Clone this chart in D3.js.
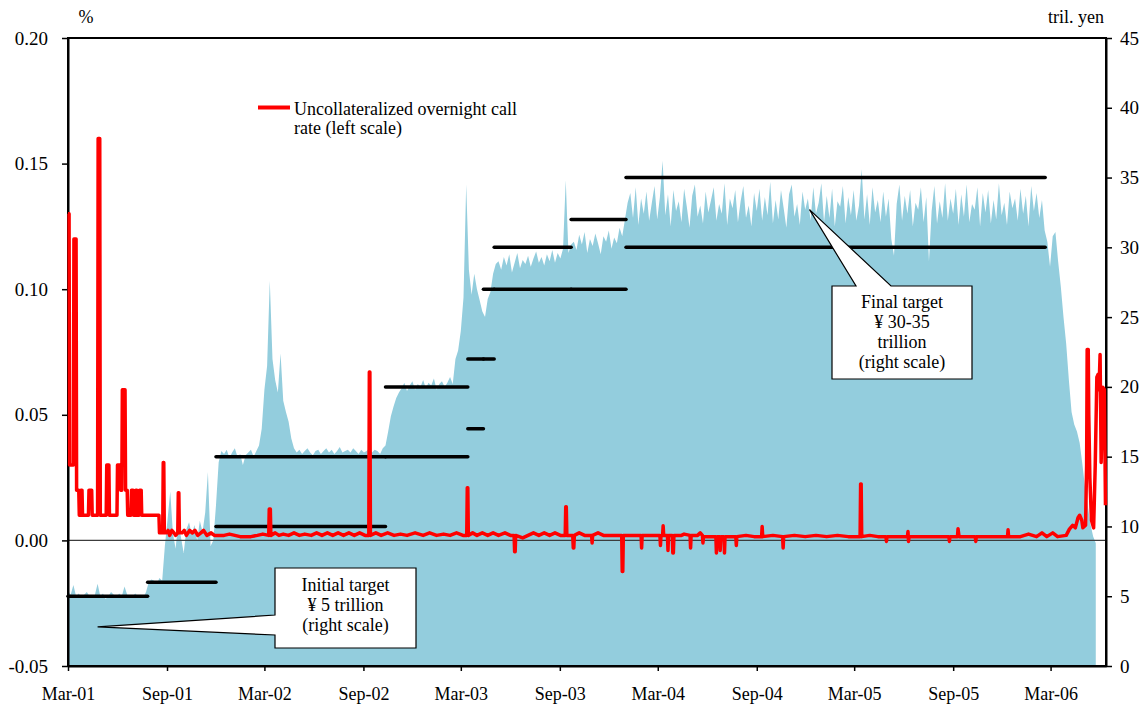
<!DOCTYPE html>
<html>
<head>
<meta charset="utf-8" />
<title>Current account balances and overnight call rate</title>
<style>
    body { margin: 0; background: #fff; }
    svg { display: block; font-family: "Liberation Serif", "Times New Roman", serif; }
</style>
</head>
<body>
<div id="chart"></div>
<script src="https://cdnjs.cloudflare.com/ajax/libs/d3/7.8.5/d3.min.js"></script>
<script>
// axis range and ticks
const startDate = "2001-03-19";
const endDate = "2006-06-30";
const tickDates = ["2001-03-19", "2001-09-19", "2002-03-19", "2002-09-19", "2003-03-19", "2003-09-19",
    "2004-03-19", "2004-09-19", "2005-03-19", "2005-09-19", "2006-03-19"];
const leftTicks = [-0.05, 0, 0.05, 0.10, 0.15, 0.20];
const rightTicks = [0, 5, 10, 15, 20, 25, 30, 35, 40, 45];

// current account balances, tril. yen, one reading every 5 days from startDate
const balanceStep = 5;
const balance = [
    // Mar 2001 - Aug 2001
    5.4, 5.1, 5.8, 5.0, 5.2, 4.9, 5.1, 5.3, 5.0, 4.9,
    5.1, 5.9, 5.0, 5.2, 4.8, 5.0, 5.3, 5.1, 4.9, 5.2,
    5.0, 5.7, 5.1, 4.9, 5.0, 5.2, 5.0, 5.1, 4.9, 5.3,
    6.0, 6.2, 6.1, 5.9, 6.3, 6.1,
    // after Sep 2001
    8.6, 10.5, 12.5, 9.5, 8.4, 10.4, 9.2, 8.1, 9.8, 10.3,
    9.4, 10.1, 9.0, 10.4, 9.6, 11.0, 13.9, 8.6, 9.0, 11.5,
    14.6, 15.4,
    // Dec 2001 - Feb 2002
    15.2, 15.5, 14.9, 15.3, 15.6, 15.0, 15.2, 14.4, 15.1, 15.3, 15.5, 15.0, 15.4, 15.8,
    // fiscal year end 2002
    17.0, 19.8, 21.5, 27.6, 22.0, 20.5, 19.6, 22.4, 19.0, 18.2, 17.5, 16.3, 15.6,
    // Apr 2002 - Oct 2002
    15.3, 15.5, 15.2, 15.4, 15.6, 15.3, 15.1, 15.4, 15.5, 15.2,
    15.4, 15.6, 15.3, 15.5, 15.2, 15.4, 15.7, 15.3, 15.4, 15.5,
    15.3, 15.6, 15.4, 15.2, 15.5, 15.3, 15.4, 15.6, 15.3, 15.5, 15.4, 15.2, 15.6,
    // Nov 2002 - Mar 2003
    15.8, 16.8, 17.9, 18.6, 19.2, 19.6,
    19.9, 20.3, 19.7, 20.1, 20.4, 19.8, 20.2, 20.0, 20.5, 19.9,
    20.3, 20.1, 20.6, 19.8, 20.2, 20.4, 20.0, 20.3, 20.7, 20.2,
    // Mar 2003 - May 2003
    22.0, 22.6, 24.0, 26.4, 34.5, 28.4, 26.6, 28.1, 27.0, 26.2, 25.4, 25.0, 26.3, 26.8, 28.1, 28.8,
    // May 2003 - Oct 2003
    29.0, 28.4, 29.3, 28.7, 29.5, 28.2, 28.9, 29.6, 28.5, 29.1,
    28.8, 29.4, 28.6, 29.2, 29.7, 28.9, 29.3, 28.7, 29.5, 29.0,
    29.8, 28.9, 29.6, 29.2, 29.9,
    34.8, 29.6, 30.2,
    // Oct 2003 - Jan 2004
    30.4, 29.8, 30.9, 30.2, 31.1, 29.6, 30.6, 30.1, 31.0, 30.3,
    29.5, 30.8, 30.4, 31.2, 29.9, 30.7, 30.3, 31.4, 30.8,
    32.0, 33.2,
    // Jan 2004 - Mar 2006
    33.9, 32.1, 34.3, 31.6, 33.5, 32.4, 34.0, 31.9, 33.2, 34.4,
    32.0, 33.6, 36.2, 32.3, 33.8, 31.5, 34.1, 32.6, 33.3, 31.8,
    34.2, 32.9, 31.4, 33.7, 34.5, 32.2, 33.0, 31.7, 34.0, 32.5,
    33.4, 34.3, 31.9, 33.1, 32.4, 34.6, 31.6, 33.5, 32.8, 34.1,
    31.8, 33.3, 34.4, 32.1, 33.0, 31.5, 33.9, 32.6, 34.2, 31.9,
    33.6, 32.3, 34.7, 31.7, 33.4, 32.0, 34.1, 32.8, 31.4, 33.8,
    34.5, 32.2, 33.1, 31.6, 34.0, 32.7, 33.5, 31.9, 34.3, 32.4,
    33.2, 34.6, 31.8, 33.7, 32.1, 34.2, 31.5, 33.3, 32.9, 34.4,
    31.7, 33.6, 32.3, 34.1, 31.9, 33.0, 35.6, 32.0, 33.8, 31.6,
    34.3, 32.5, 33.4, 31.8, 34.0, 32.2, 33.5, 30.6, 29.4, 33.1,
    34.5, 31.9, 33.7, 32.4, 34.1, 31.5, 33.2, 32.7, 34.3, 31.8,
    33.6, 29.0, 32.6, 34.4, 31.7, 33.3, 32.1, 34.6, 31.9, 33.5,
    32.4, 34.2, 31.6, 33.8, 32.2, 34.5, 31.8, 33.1, 32.7, 34.3,
    31.5, 33.9, 32.5, 34.1, 31.7, 33.4, 32.0, 34.6, 32.3, 33.2,
    31.6, 34.0, 32.8, 33.5, 31.9, 34.2, 32.4, 33.7, 31.5, 34.4,
    32.6, 33.9, 32.1, 33.4, 31.2,
    // exit, Mar 2006 - Jun 2006
    30.4, 28.6, 30.8, 31.1, 29.0, 27.2, 25.0, 23.1, 20.5, 18.2,
    17.3, 16.8, 16.0, 14.5, 12.8, 11.5, 10.2, 9.3, 8.8
];

// target ranges for current account balances (tril. yen)
const targetFrom = ["2001-03-19", "2001-08-14", "2001-12-19", "2002-10-30", "2003-04-01",
    "2003-04-30", "2003-05-20", "2003-10-10", "2004-01-20"];
const targetTo = ["2001-08-14", "2001-12-19", "2002-10-30", "2003-04-01", "2003-04-30",
    "2003-05-20", "2003-10-10", "2004-01-20", "2006-03-09"];
const targetLow = [5, 6, 10, 15, 17, 22, 27, 27, 30];
const targetHigh = [5, 6, 15, 20, 22, 27, 30, 32, 35];

// uncollateralized overnight call rate, %: [days after startDate, rate]
const callRate = [
    [0, .13], [2, .13], [3, .03], [10, .03], [11, .12], [15, .12], [16, .02], [20, .02], [21, .01], [23, .01],
    [24, .02], [26, .02], [27, .01], [38, .01], [39, .02], [44, .02], [45, .01], [55, .01], [56, .16], [59, .16],
    [60, .01], [71, .01], [72, .03], [76, .03], [77, .01], [91, .01], [92, .03], [97, .03], [98, .02], [100, .02],
    [101, .06], [106, .06], [107, .02], [110, .02], [111, .01], [117, .01], [118, .02], [121, .02], [122, .01],
    [125, .01], [126, .02], [128, .02], [129, .01], [132, .01], [133, .02], [136, .02], [137, .01], [169, .01],
    [170, .003], [176, .003], [177, .031], [178, .031], [179, .003], [183, .003], [186, .004], [189, .002],
    [193, .004], [197, .003], [200, .002], [204, .003], [205, .019], [206, .019], [207, .003], [212, .003],
    [216, .004], [220, .002], [226, .004], [231, .003], [236, .004], [241, .002], [247, .003], [252, .004],
    [258, .002], [266, .003], [272, .002], [280, .002], [290, .002], [300, .0025], [320, .0015], [340, .0015],
    [352, .002], [362, .0025], [373, .002], [374, .0125], [376, .0125], [377, .002], [385, .003], [392, .002],
    [400, .0025], [410, .002], [420, .003], [430, .002], [440, .0025], [452, .002], [462, .003], [472, .002],
    [482, .003], [492, .002], [502, .003], [512, .002], [522, .003], [532, .002], [542, .003], [552, .002],
    [559, .002], [560, .067], [561, .067], [562, .002], [572, .003], [582, .002], [594, .003], [606, .002],
    [618, .0025], [630, .002], [645, .003], [660, .002], [672, .003], [685, .002], [698, .0025], [710, .002],
    [722, .003], [734, .002], [741, .002], [742, .021], [743, .021], [744, .002], [752, .003], [760, .002],
    [770, .003], [780, .002], [790, .003], [800, .002], [812, .003], [822, .002], [829, .002], [830, -.0045],
    [831, -.0045], [832, .002], [845, .001], [855, .002], [865, .003], [875, .002], [885, .003], [895, .002],
    [905, .003], [915, .002], [924, .002], [925, .0134], [926, .0134], [927, .002], [938, .002], [939, -.003],
    [940, -.003], [941, .002], [950, .003], [960, .002], [973, .002], [974, -.001], [975, .002], [985, .003],
    [995, .002], [1005, .002], [1015, .002], [1029, .002], [1030, -.0124], [1031, -.0124], [1032, .002],
    [1045, .002], [1065, .002], [1066, -.003], [1067, .002], [1085, .002], [1100, .002], [1101, -.002],
    [1102, .002], [1105, .002], [1106, .0058], [1107, .002], [1114, .002], [1115, -.004], [1116, .002],
    [1123, .002], [1124, -.005], [1125, -.005], [1126, .002], [1140, .002], [1145, .0025], [1156, .002],
    [1157, -.003], [1158, .002], [1170, .002], [1175, .003], [1179, .002], [1180, -.001], [1181, .0015],
    [1204, .0015], [1205, -.005], [1206, .0015], [1211, .0015], [1212, -.004], [1213, .0015], [1219, .0015],
    [1220, -.005], [1221, .0015], [1241, .0015], [1242, -.002], [1243, .0015], [1260, .002], [1275, .0015],
    [1289, .0015], [1290, .0055], [1291, .0015], [1310, .002], [1328, .0015], [1329, -.003], [1330, .0015],
    [1350, .002], [1370, .0015], [1390, .002], [1410, .0015], [1430, .002], [1450, .0015], [1472, .0015],
    [1473, .0225], [1474, .0225], [1475, .0015], [1490, .002], [1505, .0015], [1520, .0015], [1521, -.0004],
    [1522, .0015], [1540, .0015], [1560, .0015], [1561, .0035], [1562, -.0004], [1563, .0015], [1600, .0015],
    [1637, .0015], [1638, -.0004], [1639, .0015], [1653, .0015], [1654, .0046], [1656, .0015], [1686, .0015],
    [1687, -.0004], [1688, .0015], [1720, .0015], [1746, .0015], [1747, .0042], [1748, .0015], [1770, .0015],
    [1785, .0025], [1800, .0015], [1810, .003], [1819, .0015], [1830, .003], [1839, .0015], [1855, .002],
    [1861, .0045], [1867, .006], [1872, .005], [1877, .009], [1880, .010], [1884, .008], [1886, .005],
    [1891, .006], [1893, .03], [1894, .076], [1896, .076], [1897, .05], [1899, .025], [1902, .008], [1906, .005],
    [1909, .03], [1912, .065], [1914, .066], [1916, .06], [1918, .074], [1920, .031], [1923, .061], [1926, .06],
    [1928, .014]
];

var width = 1148;
var height = 709;
var margin = { top: 38, right: 42, bottom: 43, left: 68 };
var innerW = width - margin.left - margin.right;
var innerH = height - margin.top - margin.bottom;
var serif = '"Liberation Serif", "Times New Roman", serif';

var parse = d3.timeParse("%Y-%m-%d");
var start = parse(startDate);
var dayDate = n => d3.timeDay.offset(start, n);

var x = d3.scaleTime().domain([start, parse(endDate)]).range([0, innerW]);
var yL = d3.scaleLinear().domain([-0.05, 0.20]).range([innerH, 0]);
var yR = d3.scaleLinear().domain([0, 45]).range([innerH, 0]);

var balanceData = balance.map((v, i) => ({ date: dayDate(i * balanceStep), v: v }));
var rateData = callRate.map(d => ({ date: dayDate(d[0]), v: d[1] }));

const svg = d3.select("#chart").append("svg")
    .attr("width", width)
    .attr("height", height);
const g = svg.append("g").attr("transform", `translate(${margin.left},${margin.top})`);

// balances (right scale)
g.append("path")
    .datum(balanceData)
    .attr("fill", "#93cddd")
    .attr("d", d3.area().x(d => x(d.date)).y0(yR(0)).y1(d => yR(d.v)));

// zero line of the left scale
g.append("line")
    .attr("x1", 0).attr("x2", innerW)
    .attr("y1", yL(0)).attr("y2", yL(0))
    .attr("stroke", "#3c3c3c")
    .attr("stroke-width", 1.3);

// plot frame
g.append("rect")
    .attr("width", innerW).attr("height", innerH)
    .attr("fill", "none").attr("stroke", "#000").attr("stroke-width", 2);

function styleAxis(sel, size) {
    sel.attr("font-family", serif).attr("font-size", size);
    sel.select(".domain").attr("stroke", "#000").attr("stroke-width", 2);
    sel.selectAll(".tick line").attr("stroke", "#000").attr("stroke-width", 1.5);
    sel.selectAll(".tick text").attr("fill", "#000");
}

g.append("g")
    .call(d3.axisLeft(yL).tickValues(leftTicks).tickFormat(d => d.toFixed(2))
        .tickSize(6).tickSizeOuter(0).tickPadding(14))
    .call(s => styleAxis(s, 19));

g.append("g")
    .attr("transform", `translate(${innerW},0)`)
    .call(d3.axisRight(yR).tickValues(rightTicks).tickSize(6).tickSizeOuter(0).tickPadding(8))
    .call(s => styleAxis(s, 19));

g.append("g")
    .attr("transform", `translate(0,${innerH})`)
    .call(d3.axisBottom(x).tickValues(tickDates.map(parse)).tickFormat(d3.timeFormat("%b-%y"))
        .tickSize(5).tickSizeOuter(0).tickPadding(16))
    .call(s => styleAxis(s, 18));

// unit labels
svg.append("text").attr("x", 86).attr("y", 23).attr("text-anchor", "middle")
    .attr("font-size", 18).text("%");
svg.append("text").attr("x", 1076).attr("y", 23).attr("text-anchor", "middle")
    .attr("font-size", 18).text("tril. yen");

// target ranges
var targetSegs = [];
targetFrom.forEach((f, i) => {
    targetSegs.push({ from: parse(f), to: parse(targetTo[i]), v: targetLow[i] });
    if (targetHigh[i] !== targetLow[i])
        targetSegs.push({ from: parse(f), to: parse(targetTo[i]), v: targetHigh[i] });
});
g.append("g")
    .selectAll("line")
    .data(targetSegs)
    .join("line")
    .attr("x1", d => x(d.from)).attr("x2", d => x(d.to))
    .attr("y1", d => yR(d.v)).attr("y2", d => yR(d.v))
    .attr("stroke", "#000")
    .attr("stroke-width", 3.5)
    .attr("stroke-linecap", "round");

// call rate (left scale)
g.append("path")
    .datum(rateData)
    .attr("fill", "none")
    .attr("stroke", "#ff0000")
    .attr("stroke-width", 3.5)
    .attr("stroke-linejoin", "round")
    .attr("d", d3.line().x(d => x(d.date)).y(d => yL(d.v)));

// callouts, pointer tip given on the right scale
function callout(tipDay, tipValue, box, lines) {
    var tx = x(dayDate(tipDay)), ty = yR(tipValue);
    var bx = box.left - margin.left, by = box.top - margin.top;
    var pts;
    if (box.side === "left") {
        pts = [[bx, by], [bx + box.w, by], [bx + box.w, by + box.h], [bx, by + box.h],
            [bx, by + box.b1], [tx, ty], [bx, by + box.b0]];
    } else {
        pts = [[bx, by], [bx + box.b0, by], [tx, ty], [bx + box.b1, by], [bx + box.w, by],
            [bx + box.w, by + box.h], [bx, by + box.h]];
    }
    g.append("path")
        .attr("d", d3.line()(pts) + "Z")
        .attr("fill", "#fff")
        .attr("stroke", "#000")
        .attr("stroke-width", 1.2);
    g.append("text")
        .attr("text-anchor", "middle")
        .attr("font-size", 18)
        .selectAll("tspan")
        .data(lines)
        .join("tspan")
        .attr("x", bx + box.w / 2)
        .attr("y", (d, i) => by + box.first + i * 20)
        .text(d => d);
}

callout(55, 2.8, { left: 275, top: 568, w: 141, h: 80, side: "left", b0: 47, b1: 67, first: 23 },
    ["Initial target", "\u00a5 5 trillion", "(right scale)"]);
callout(1378, 32.7, { left: 832, top: 286, w: 140, h: 93, side: "top", b0: 24, b1: 59, first: 22 },
    ["Final target", "\u00a5 30-35", "trillion", "(right scale)"]);

// legend
svg.append("line")
    .attr("x1", 258).attr("x2", 290).attr("y1", 107.5).attr("y2", 107.5)
    .attr("stroke", "#ff0000").attr("stroke-width", 4);
svg.append("text")
    .attr("font-size", 18)
    .selectAll("tspan")
    .data(["Uncollateralized overnight call", "rate (left scale)"])
    .join("tspan")
    .attr("x", 294)
    .attr("y", (d, i) => 115 + i * 19)
    .text(d => d);
</script>
</body>
</html>
